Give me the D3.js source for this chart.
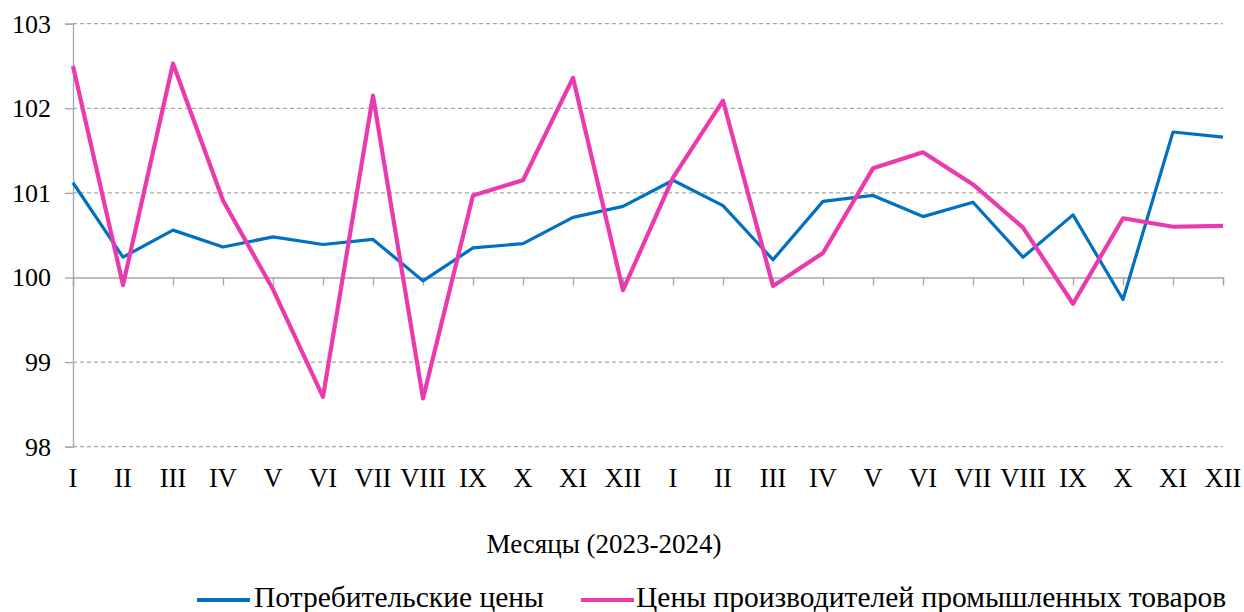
<!DOCTYPE html>
<html><head><meta charset="utf-8">
<script src="https://cdn.jsdelivr.net/npm/d3@7"></script>
<style>body{margin:0;background:#fff}svg{display:block}</style>
</head><body>
<svg id="c" width="1244" height="612"></svg>
<script>
const months = ["I","II","III","IV","V","VI","VII","VIII","IX","X","XI","XII","I","II","III","IV","V","VI","VII","VIII","IX","X","XI","XII"];
const cpi = [101.12,100.24,100.56,100.36,100.48,100.39,100.45,99.96,100.35,100.40,100.71,100.84,101.15,100.85,100.21,100.90,100.97,100.72,100.89,100.24,100.74,99.74,101.72,101.66];
const ppi = [102.50,99.91,102.53,100.91,99.86,98.59,102.15,98.57,100.97,101.15,102.36,99.85,101.18,102.09,99.90,100.29,101.29,101.48,101.10,100.59,99.69,100.70,100.60,100.61];
const yTicks = [98,99,100,101,102,103];
const seriesNames = ["Потребительские цены","Цены производителей промышленных товаров"];
const colors = ["#0070c0","#ea3aae"];

const svg = d3.select("#c");
const font = "'Liberation Serif','Times New Roman',serif";
const x = d3.scaleLinear().domain([0, months.length-1]).range([73, 1223]);
const y = d3.scaleLinear().domain([98,103]).range([446.7, 23.7]);

// gridlines
svg.append("g").selectAll("line").data(yTicks.filter(d=>d!==100)).join("line")
  .attr("x1",73).attr("x2",1223).attr("y1",d=>y(d)).attr("y2",d=>y(d))
  .attr("stroke","#a6a6a6").attr("stroke-width",1.2).attr("stroke-dasharray","4,3");

// y axis
const ya = svg.append("g").attr("transform","translate(73,0)")
  .call(d3.axisLeft(y).tickValues(yTicks).tickSize(8).tickPadding(14).tickFormat(d3.format("d")));
ya.select(".domain").attr("stroke","#a6a6a6").attr("stroke-width",1.3);
ya.selectAll(".tick line").attr("stroke","#a6a6a6").attr("stroke-width",1.3);
ya.selectAll("text").attr("font-family",font).attr("font-size",26).attr("fill","#000");

// x axis at 100
const xa = svg.append("g").attr("transform",`translate(0,${y(100)})`)
  .call(d3.axisBottom(x).tickValues(d3.range(months.length)).tickSize(8).tickFormat(""));
xa.select(".domain").attr("stroke","#a6a6a6").attr("stroke-width",1.3);
xa.selectAll(".tick line").attr("stroke","#a6a6a6").attr("stroke-width",1.3);

// x labels at bottom
svg.append("g").selectAll("text").data(months).join("text")
  .attr("x",(d,i)=>x(i)).attr("y",487).attr("text-anchor","middle")
  .attr("font-family",font).attr("font-size",26.5).attr("fill","#000").text(d=>d);

// lines
const line = d3.line().x((d,i)=>x(i)).y(d=>y(d));
svg.append("path").datum(cpi).attr("d",line).attr("fill","none")
  .attr("stroke",colors[0]).attr("stroke-width",3.2).attr("stroke-linejoin","round");
svg.append("path").datum(ppi).attr("d",line).attr("fill","none")
  .attr("stroke",colors[1]).attr("stroke-width",4.2).attr("stroke-linejoin","round");

// axis title
svg.append("text").attr("x",604).attr("y",553).attr("text-anchor","middle")
  .attr("font-family",font).attr("font-size",27).attr("fill","#000").text("Месяцы (2023-2024)");

// legend
const leg = [{x:197,tx:254},{x:581,tx:636}];
leg.forEach((l,i)=>{
  svg.append("line").attr("x1",l.x).attr("x2",l.x+53).attr("y1",600).attr("y2",600)
    .attr("stroke",colors[i]).attr("stroke-width",4);
  svg.append("text").attr("x",l.tx).attr("y",607).attr("font-family",font)
    .attr("font-size",29.5).attr("fill","#000").text(seriesNames[i]);
});
</script>
</body></html>
